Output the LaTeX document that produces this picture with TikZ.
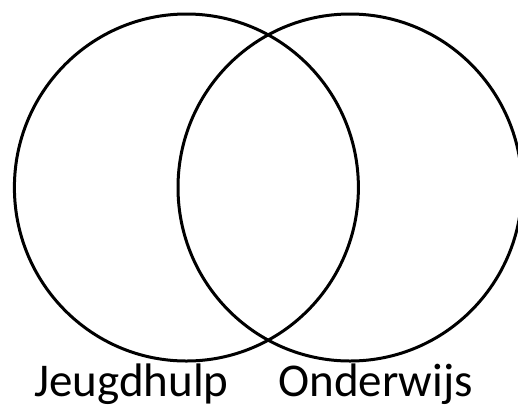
\documentclass[tikz,border=0pt]{standalone}
\usepackage{fontspec}
\setmainfont{Carlito}
\begin{document}
\begin{tikzpicture}[x=1bp,y=-1bp,
  venn/.style={draw=black,line width=3bp},
  lab/.style={font=\fontsize{47bp}{56bp}\selectfont,anchor=base,inner sep=0pt}]
\useasboundingbox (0,0) rectangle (518,406);
\begin{scope}
\clip (0,0) rectangle (518,406);
\draw[venn] (186.4,187.5) ellipse [x radius=172,y radius=173.5];
\draw[venn] (350,187.5) ellipse [x radius=172,y radius=173.5];
\end{scope}
\node[lab] (j) at (131.5,396.5) {Jeugdhulp};
\node[lab] (o) at (375.5,396.5) {Onderwijs};
\end{tikzpicture}
\end{document}
